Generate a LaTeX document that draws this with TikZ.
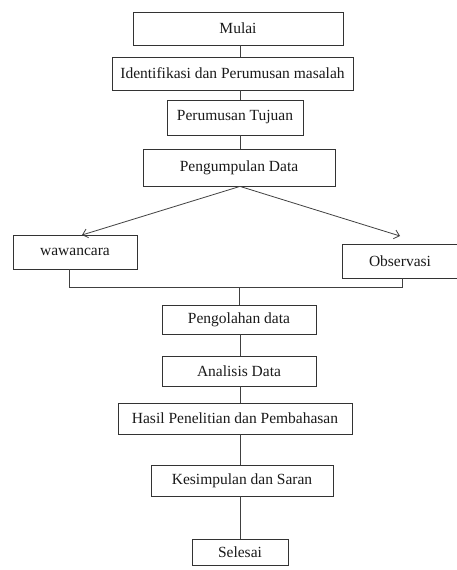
\documentclass[tikz,border=0pt]{standalone}
\usepackage{fontspec}
\setmainfont{Liberation Serif}
\usetikzlibrary{arrows.meta}
\begin{document}
\begin{tikzpicture}[x=1pt,y=-1pt,
  box/.style={draw=black!80,line width=0.8pt,inner sep=0pt,font=\fontsize{15.5}{17}\selectfont,text=black!90},
  link/.style={draw=black!75,line width=0.8pt},
  arr/.style={link,-{Straight Barb[length=5pt,width=9pt,line width=0.8pt]}}]
\useasboundingbox (0,0) rectangle (457,570);
\node[box,minimum width=210pt,minimum height=33pt] (mulai) at (238,28.5) {Mulai};
\node[box,minimum width=241pt,minimum height=33pt] (ident) at (232.5,73.5) {Identifikasi dan Perumusan masalah};
\node[box,minimum width=136pt,minimum height=35pt] (tujuan) at (235,117.5) {Perumusan Tujuan};
\node[box,minimum width=192pt,minimum height=37pt] (kumpul) at (239,167.5) {Pengumpulan Data};
\node[box,minimum width=124pt,minimum height=34pt] (waw) at (75,252) {wawancara};
\node[box,minimum width=128pt,minimum height=34pt] (obs) at (406,261) {\hspace*{-12pt}Observasi};
\node[box,minimum width=154pt,minimum height=29pt] (olah) at (239,319.5) {Pengolahan data};
\node[box,minimum width=154pt,minimum height=30pt] (anal) at (239,371) {Analisis Data};
\node[box,minimum width=234pt,minimum height=31pt] (hasil) at (235,418.5) {Hasil Penelitian dan Pembahasan};
\node[box,minimum width=182pt,minimum height=31pt] (kesim) at (242,480.5) {Kesimpulan dan Saran};
\node[box,minimum width=96pt,minimum height=26pt] (selesai) at (240,552) {Selesai};
\coordinate (sp) at (240,0);
\coordinate (wl) at (82,235);
\coordinate (ol) at (400,236);
\coordinate (bl) at (69,287);
\coordinate (br) at (402,287);
\coordinate (bc) at (239,287);
\draw[link] (mulai.south -| sp) -- (ident.north -| sp);
\draw[link] (ident.south -| sp) -- (tujuan.north -| sp);
\draw[link] (tujuan.south -| sp) -- (kumpul.north -| sp);
\draw[arr] (kumpul.south -| sp) -- (wl);
\draw[arr] (kumpul.south -| sp) -- (ol);
\draw[link] (waw.south -| bl) -- (bl) -- (br) -- (obs.south -| br);
\draw[link] (bc) -- (olah.north -| bc);
\draw[link] (olah.south -| sp) -- (anal.north -| sp);
\draw[link] (anal.south -| sp) -- (hasil.north -| sp);
\draw[link] (hasil.south -| sp) -- (kesim.north -| sp);
\draw[link] (kesim.south -| sp) -- (selesai.north -| sp);
\end{tikzpicture}
\end{document}
